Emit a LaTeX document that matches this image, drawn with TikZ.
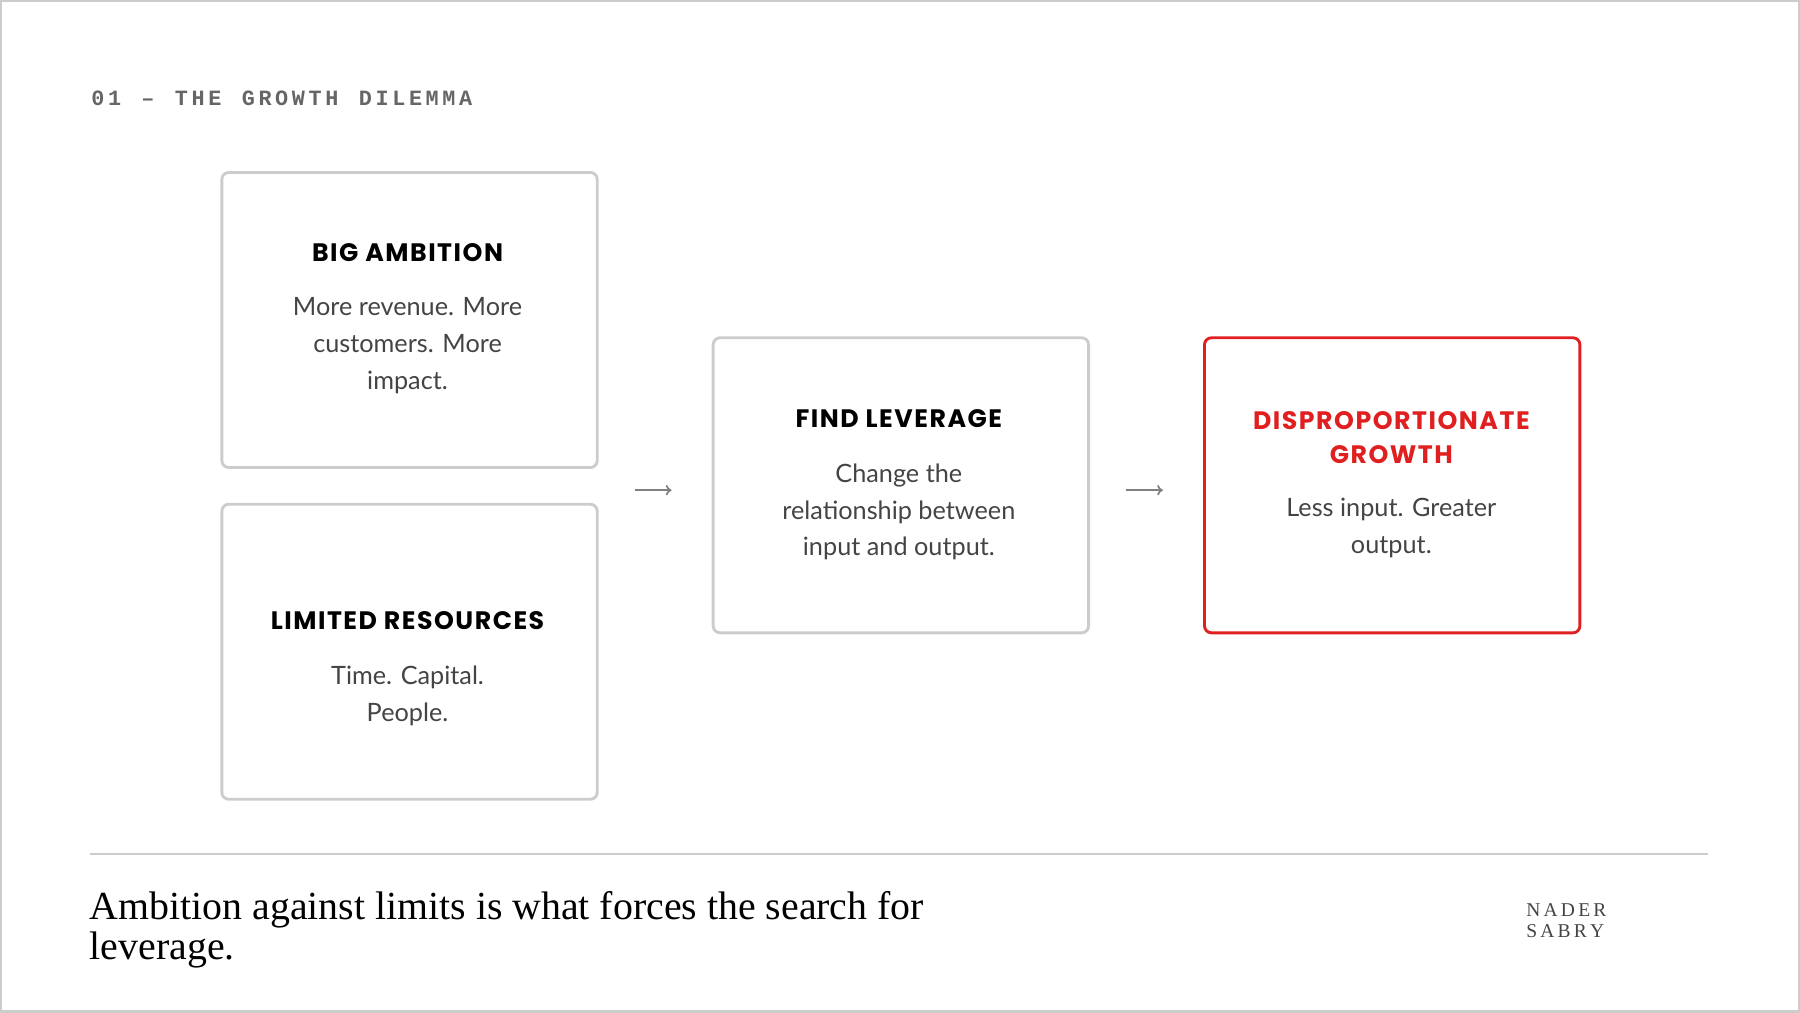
\documentclass[tikz,border=0pt]{standalone}
\usepackage{fontspec}
\usetikzlibrary{arrows.meta}
\setmainfont{Lato}
\newfontfamily\headf[LetterSpace=6]{Poppins}
\newfontfamily\monof{Liberation Mono}
\newfontfamily\serf{Liberation Serif}
\definecolor{bx}{HTML}{CCCCCC}
\definecolor{rd}{HTML}{E02020}
\definecolor{tx}{HTML}{444444}
\begin{document}
\begin{tikzpicture}[x=1pt,y=-1pt,
  box/.style={draw=bx,line width=2.5pt,rounded corners=6pt,minimum width=327pt,minimum height=257pt,anchor=north west},
  hd/.style={font=\headf\bfseries\fontsize{22}{28}\selectfont,text=black,align=center},
  bd/.style={font=\fontsize{22}{32}\selectfont,text=tx,align=center},
  arr/.style={draw=gray,line width=1.5pt,-{To[length=5pt,width=9pt]}}]
\draw[draw=bx,line width=2pt] (1,1) rectangle (1567,881);
\useasboundingbox (0,0) rectangle (1568,882);
\node[anchor=west,font=\monof\bfseries\fontsize{19}{20}\selectfont,text=gray!80!black] (ttl) at (76,86) {0\,1\, \,–\, \,T\,H\,E\, \,G\,R\,O\,W\,T\,H\, \,D\,I\,L\,E\,M\,M\,A};
\node[box] (a) at (192,149) {};
\node[box] (b) at (192,438) {};
\node[box] (c) at (620,293) {};
\node[box,draw=rd] (d) at (1048,293) {};
\node[hd] (ah) at (355,220) {BIG AMBITION};
\node[bd] (ab) at (355,301) {More revenue. More\\customers. More\\impact.};
\node[hd] (bh) at (355,541) {LIMITED RESOURCES};
\node[bd] (bb) at (355,606) {Time. Capital.\\People.};
\node[hd] (ch) at (783,365) {FIND LEVERAGE};
\node[bd] (cb) at (783,446) {Change the\\relationship between\\input and output.};
\node[hd,text=rd,font=\headf\bfseries\fontsize{22}{30}\selectfont] (dh) at (1212,381) {DISPROPORTIONATE\\GROWTH};
\node[bd] (db) at (1212,460) {Less input. Greater\\output.};
\coordinate (a1) at (553,427); \coordinate (a2) at (585,427);
\coordinate (b1) at (981,427); \coordinate (b2) at (1013,427);
\draw[arr] (a1) -- (a2);
\draw[arr] (b1) -- (b2);
\coordinate (l1) at (78,744); \coordinate (l2) at (1488,744);
\draw[bx,line width=2pt] (l1) -- (l2);
\node[anchor=north west,font=\serf\fontsize{34.7}{35}\selectfont,align=left,inner sep=0] (q) at (78,776) {Ambition against limits is what forces the search for\\leverage.};
\node[anchor=west,font=\serf\fontsize{17}{18}\selectfont,align=left,text=tx] (n) at (1326,802) {N\,A\,D\,E\,R\\S\,A\,B\,R\,Y};
\end{tikzpicture}
\end{document}
